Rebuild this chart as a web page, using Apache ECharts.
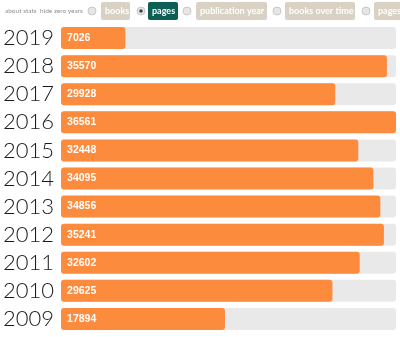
<!DOCTYPE html>
<html><head><meta charset="utf-8">
<script src="https://cdn.jsdelivr.net/npm/echarts@6/dist/echarts.min.js"></script>
<style>html,body{margin:0;padding:0;background:#fff}#c{width:400px;height:337px}</style>
</head><body><div id="c"></div>
<script>
var years = ['2019','2018','2017','2016','2015','2014','2013','2012','2011','2010','2009'];
var pages = [7026, 35570, 29928, 36561, 32448, 34095, 34856, 35241, 32602, 29625, 17894];
var tabs = ['books','pages','publication year','books over time','pages over time'];
var links = ['about stats','hide zero years'];
var selectedTab = 'pages';

var tabX = [101, 148, 196, 285, 374];
var tabW = [29, 30, 71, 70, 80];
var radioX = [92, 141, 187, 277, 366];
var g = [];
g.push({type:'text', left:5, top:7, style:{text:links[0], fontSize:6.5, fill:'#8f8f8f', fontFamily:'Lato'}});
g.push({type:'text', left:40, top:7, style:{text:links[1], fontSize:6.5, fill:'#8f8f8f', fontFamily:'Lato'}});
tabs.forEach(function(t,i){
  var sel = t === selectedTab;
  g.push({type:'circle', shape:{cx:radioX[i], cy:11, r:4}, style:{fill:'#e6e6e6', stroke:'#c8c8c8', lineWidth:1}});
  if (sel) g.push({type:'circle', shape:{cx:radioX[i], cy:11, r:1.8}, style:{fill:'#444'}});
  g.push({type:'rect', shape:{x:tabX[i], y:2, width:tabW[i], height:18, r:2}, style:{fill: sel ? '#0d5f55' : '#d8d1c4'}});
  g.push({type:'text', x:tabX[i]+4, y:11, style:{text:t, fontSize:9, fontWeight:'bold', fill:'#fff', verticalAlign:'middle', fontFamily:'Lato'}});
});

var chart = echarts.init(document.getElementById('c'));
chart.setOption({
  animation:false,
  grid:{left:59, right:4, top:24, bottom:4, containLabel:false},
  xAxis:{type:'value', min:0, max:36561, show:false},
  yAxis:{type:'category', data:years, inverse:true,
    axisLine:{show:false}, axisTick:{show:false},
    axisLabel:{interval:0, fontSize:22, fontWeight:300, color:'#1a1a1a', margin:7, fontFamily:'Lato'}},
  series:[{type:'bar', data:pages, barWidth:22,
    itemStyle:{color:'#fd8b3e', borderRadius:3},
    showBackground:true, backgroundStyle:{color:'#e9e9e9', borderRadius:3},
    label:{show:true, position:'insideLeft', distance:6, color:'#fff', fontSize:10.5, fontWeight:'bold', fontFamily:'Liberation Sans'}}],
  graphic:g
});
</script></body></html>
